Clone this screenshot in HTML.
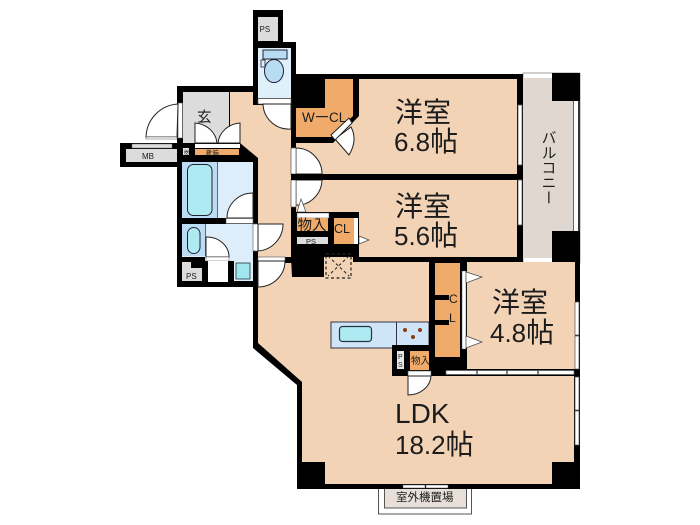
<!DOCTYPE html>
<html><head><meta charset="utf-8">
<style>
html,body{margin:0;padding:0;background:#fff}
svg{display:block}
text{font-family:"Liberation Sans","Noto Sans CJK JP",sans-serif;fill:#1c1c1c}
</style></head>
<body>
<svg width="700" height="525" viewBox="0 0 700 525" xmlns="http://www.w3.org/2000/svg">
<rect width="700" height="525" fill="#fff"/>
<!-- outdoor unit -->
<rect x="378.5" y="486" width="93" height="28" fill="#fff" stroke="#555" stroke-width="1"/>
<rect x="384.5" y="486" width="82" height="22" fill="#e8e0d8" stroke="#555" stroke-width="1"/>
<!-- balcony -->
<rect x="523" y="73" width="57" height="190" fill="#fff" stroke="#888" stroke-width="0.8"/>
<rect x="523" y="78" width="50" height="180" fill="#e0d8d0"/>
<rect x="573" y="78" width="1" height="180" fill="#666"/>
<rect x="578" y="78" width="2" height="180" fill="#333"/>
<!-- black silhouette -->
<polygon fill="#000" points="253,10 283,10 283,42 296,42 296,74 523,74 523,262 580,262 580,489 297,489 297,385 253,348 253,287 177,287 177,167 120,167 120,143 177,143 177,86 253,86"/>
<rect x="552" y="73" width="28" height="28" fill="#000"/>
<rect x="552" y="231" width="28" height="31" fill="#000"/>
<rect x="523" y="250" width="29" height="7" fill="#e0d8d0"/>
<!-- PS top -->
<rect x="258" y="17" width="20" height="24" fill="#dcdcdc"/>
<!-- toilet -->
<rect x="258" y="48" width="33" height="50" fill="#dff0fa"/>
<rect x="258" y="98.500" width="33" height="5.500" fill="#fff" stroke="#555" stroke-width=".6"/>
<rect x="263" y="50" width="24" height="9" fill="#b9dcf5" stroke="#223" stroke-width="1"/>
<rect x="261" y="60" width="4" height="7" fill="#dff0fa" stroke="#223" stroke-width=".8"/>
<ellipse cx="274" cy="71" rx="9.500" ry="11.500" fill="#b9dcf5" stroke="#223" stroke-width="1"/>
<!-- Genkan -->
<rect x="183" y="92" width="46" height="51" fill="#dcdcdc"/>
<!-- Hall + LDK -->
<polygon fill="#f2d3b6" points="230,92 253,92 253,105 291,105 291,257 292,277 323,277 323,250 353,250 353,262 429,262 429,345 392,345 392,376 574,376 574,484 325,484 325,462 302,462 302,382 258,343 258,158 240,143 230,143"/>
<rect x="302" y="462" width="23" height="27" fill="#000"/>
<rect x="552" y="462" width="28" height="27" fill="#000"/>
<rect x="285" y="257" width="8" height="6" fill="#000"/>
<rect x="291" y="143" width="6" height="120" fill="#000"/>
<!-- 6.8 room -->
<polygon fill="#f2d3b6" points="359,79 517,79 517,174 296,174 296,143 333,143 359,116"/>
<!-- 5.6 room -->
<polygon fill="#f2d3b6" points="296,180 517,180 517,257 359,257 359,212 296,212"/>
<!-- WCL -->
<polygon fill="#f0ab6b" points="325,79 353,79 353,116 331,137 296,137 296,108 325,108"/>
<!-- WCL door -->
<path d="M335,139 L349,155 Q358,140 351,127 Z" fill="#fff" stroke="#222" stroke-width="1"/>
<polygon points="331,135 349,118 352,123 335,140" fill="#fff" stroke="#222" stroke-width="1"/>
<!-- window strips right of upper rooms -->
<rect x="518" y="105" width="4" height="60" fill="#fff" stroke="#555" stroke-width=".7"/>
<rect x="518" y="180" width="4" height="45" fill="#fff" stroke="#555" stroke-width=".7"/>
<!-- doors left upper rooms -->
<path d="M296,148 A26,26 0 0 1 322,174 L296,174Z" fill="#fff" stroke="#222" stroke-width="1"/>
<path d="M296,180 L322,180 A26,26 0 0 1 301,205 L296,205Z" fill="#fff" stroke="#222" stroke-width="1"/>
<rect x="291" y="148" width="5" height="26" fill="#fff" stroke="#555" stroke-width=".7"/>
<rect x="291" y="180" width="5" height="27" fill="#fff" stroke="#555" stroke-width=".7"/>
<rect x="291" y="174" width="226" height="6" fill="#000"/>
<polygon points="297,212 301,199 306,212" fill="#fff" stroke="#444" stroke-width=".7"/>
<!-- toilet door swing -->
<path d="M263,104 L291,104 L291,129 A26,26 0 0 1 263,104Z" fill="#fff" stroke="#222" stroke-width="1"/>
<!-- CL block -->
<rect x="295" y="212" width="64" height="45" fill="#000"/>
<rect x="292" y="250" width="32" height="27" fill="#000"/>
<rect x="297" y="213" width="32" height="5" fill="#fff" stroke="#555" stroke-width=".5"/>
<rect x="297" y="218" width="31" height="13" fill="#f0ab6b"/>
<rect x="297" y="237" width="31" height="7" fill="#dcdcdc"/>
<rect x="334" y="218" width="20" height="26" fill="#f0ab6b"/>
<rect x="354" y="218" width="4" height="26" fill="#fff"/>
<polygon points="359,236 369,240 359,244" fill="#fff" stroke="#444" stroke-width=".7"/>
<!-- shaft -->
<rect x="326" y="254" width="25" height="24" fill="none" stroke="#222" stroke-width="1.200" stroke-dasharray="3 2.500"/>
<path d="M328,256 L349,276 M349,256 L328,276" stroke="#222" stroke-width="1" stroke-dasharray="3 2.500"/>
<!-- 4.8 room -->
<rect x="429" y="262" width="146" height="108" fill="#000"/>
<rect x="467" y="262" width="108" height="107" fill="#f2d3b6"/>
<rect x="435" y="263" width="25" height="94" fill="#f0ab6b"/>
<rect x="435" y="295" width="14" height="5" fill="#000"/>
<rect x="435" y="320" width="14" height="5" fill="#000"/>
<rect x="462" y="271" width="4" height="78" fill="#fff" stroke="#555" stroke-width=".5"/>
<polygon points="466,272 482,277 466,283" fill="#fff" stroke="#444" stroke-width=".7"/>
<polygon points="466,336 482,342 466,348" fill="#fff" stroke="#444" stroke-width=".7"/>
<rect x="467" y="369" width="107" height="7" fill="#000"/>
<rect x="446" y="370.500" width="128" height="4" fill="#fff" stroke="#555" stroke-width=".7"/>
<path d="M477,370 v5 M507,370 v5 M538,370 v5" stroke="#555" stroke-width="1.500"/>
<!-- right windows -->
<rect x="575" y="302" width="4" height="33" fill="#fff" stroke="#555" stroke-width=".7"/>
<rect x="575" y="336" width="4" height="33" fill="#fff" stroke="#555" stroke-width=".7"/>
<rect x="575" y="377" width="4" height="33" fill="#fff" stroke="#555" stroke-width=".7"/>
<rect x="575" y="411" width="4" height="34" fill="#fff" stroke="#555" stroke-width=".7"/>
<!-- kitchen -->
<rect x="331" y="322" width="98" height="26" fill="#cfe4f7" stroke="#334" stroke-width="1"/>
<rect x="396" y="322" width="1" height="26" fill="#334"/>
<rect x="339.500" y="326.500" width="32" height="15" rx="3" fill="#aeeaf2" stroke="#234" stroke-width="1.200"/>
<circle cx="405" cy="330" r="2" fill="#8a3b10"/><circle cx="420" cy="330" r="2" fill="#8a3b10"/><circle cx="413" cy="337" r="2" fill="#8a3b10"/>
<!-- kitchen back block -->
<rect x="392" y="345" width="43" height="31" fill="#000"/>
<rect x="429" y="262" width="6" height="108" fill="#000"/>
<rect x="435" y="357" width="32" height="6" fill="#000"/>
<rect x="397" y="351" width="7" height="18" fill="#e8e8e8"/>
<rect x="410" y="351" width="19" height="19" fill="#f0ab6b"/>
<rect x="408" y="371" width="23" height="5" fill="#fff" stroke="#555" stroke-width=".6"/>
<path d="M408,376 L431,376 A23,20 0 0 1 408,395Z" fill="#fff" stroke="#222" stroke-width="1"/>
<!-- bath -->
<rect x="182" y="162" width="71" height="56" fill="#ddeefa"/>
<rect x="182" y="162" width="35" height="56" fill="#bcdcf5"/>
<rect x="217" y="162" width="1" height="56" fill="#667"/>
<rect x="187.500" y="164.500" width="24.500" height="51" rx="6" fill="#aeeaf2" stroke="#223" stroke-width="1"/>
<path d="M253,193 A26,25 0 0 0 227,218 L253,218Z" fill="#fff" stroke="#222" stroke-width="1"/>
<rect x="226" y="218.500" width="27" height="5" fill="#fff" stroke="#555" stroke-width=".6"/>
<!-- wash -->
<rect x="182" y="224" width="71" height="33" fill="#ddeefa"/>
<rect x="205" y="256" width="48" height="5" fill="#ddeefa"/>
<rect x="182" y="224" width="23" height="32" fill="#bcdcf5"/>
<rect x="205" y="224" width="1" height="32" fill="#667"/>
<rect x="187.500" y="227.500" width="12.500" height="26" rx="6.250" fill="#aeeaf2" stroke="#223" stroke-width="1"/>
<path d="M206,237 A22,20 0 0 1 229,257 L206,257Z" fill="#fff" stroke="#222" stroke-width="1"/>
<rect x="206" y="257" width="23" height="4" fill="#fff" stroke="#555" stroke-width=".5"/>
<rect x="208" y="261" width="20" height="21" fill="#fff"/>
<rect x="234" y="261" width="19" height="20" fill="#dff0fa"/>
<rect x="236" y="263" width="14" height="16" fill="#9fe6ee" stroke="#234" stroke-width=".8"/>
<polygon fill="#dcdcdc" points="182,262 191,262 191,268 202,268 202,281 182,281"/>
<!-- entrance door -->
<rect x="178" y="103" width="4.500" height="35" fill="#fff" stroke="#555" stroke-width=".6"/>
<path d="M178,104 A34,34 0 0 0 146,137 L177,137Z" fill="#fff" stroke="#222" stroke-width="1"/>
<rect x="146" y="137" width="31" height="2" fill="#fff" stroke="#555" stroke-width=".5"/>
<!-- double door -->
<path d="M195,123 A24,22 0 0 1 217,143 L195,143Z" fill="#fff" stroke="#222" stroke-width="1"/>
<path d="M240,123 A24,22 0 0 0 218,143 L240,143Z" fill="#fff" stroke="#222" stroke-width="1"/>
<rect x="195" y="144" width="45" height="4" fill="#fff"/>
<rect x="195" y="149" width="44" height="6" fill="#f0ab6b"/>
<!-- MB -->
<rect x="126" y="149" width="51" height="13" fill="#dcdcdc"/>
<rect x="132" y="144" width="40" height="4" fill="#ddd" stroke="#666" stroke-width=".5"/>
<rect x="183" y="148" width="6" height="7" fill="#e8e8e8"/>
<!-- room doors in hall -->
<rect x="253" y="224" width="5" height="27" fill="#fff" stroke="#555" stroke-width=".6"/>
<path d="M258,224 L283,224 A27,27 0 0 1 258,251Z" fill="#fff" stroke="#222" stroke-width="1"/>
<rect x="258" y="257" width="27" height="4" fill="#fff" stroke="#555" stroke-width=".6"/>
<path d="M258,261 L285,261 A27,26 0 0 1 258,287Z" fill="#fff" stroke="#222" stroke-width="1"/>
<!-- bottom window -->
<rect x="403" y="485" width="22" height="3" fill="#fff" stroke="#555" stroke-width=".5"/>
<rect x="426" y="485" width="22" height="3" fill="#fff" stroke="#555" stroke-width=".5"/>
<!-- labels -->
<text x="423" y="122" font-size="28" text-anchor="middle">洋室</text>
<text x="394" y="151" font-size="26">6.8<tspan font-size="28">帖</tspan></text>
<text x="423" y="216" font-size="28" text-anchor="middle">洋室</text>
<text x="394" y="245" font-size="26">5.6<tspan font-size="28">帖</tspan></text>
<text x="520" y="312" font-size="28" text-anchor="middle">洋室</text>
<text x="490" y="342" font-size="26">4.8<tspan font-size="28">帖</tspan></text>
<text x="395" y="423" font-size="28">LDK</text>
<text x="395" y="454" font-size="26">18.2<tspan font-size="28">帖</tspan></text>
<text x="548" y="130" font-size="15" writing-mode="vertical-rl" text-anchor="start" style="writing-mode:vertical-rl">バルコニー</text>
<text x="302" y="122" font-size="13.500">W</text>
<rect x="316" y="116" width="12" height="1.200" fill="#222"/>
<text x="329" y="122" font-size="13.500">CL</text>
<text x="197" y="122" font-size="14.500">玄</text>
<text x="259.500" y="32" font-size="8" fill="#444">PS</text>
<text x="142" y="159" font-size="8" fill="#444">MB</text>
<text x="206" y="155" font-size="6.500">靴箱</text>
<text x="184" y="154" font-size="5">器</text>
<text x="297.500" y="230" font-size="14.500">物入</text>
<text x="334" y="233" font-size="12.500">CL</text>
<text x="306" y="244" font-size="7.500">PS</text>
<text x="186" y="279" font-size="8" fill="#444">PS</text>
<text x="449" y="303" font-size="12">C</text>
<text x="449" y="322" font-size="12">L</text>
<text x="398" y="359" font-size="7" fill="#333">P</text>
<text x="398" y="367" font-size="7" fill="#333">S</text>
<text x="411" y="364" font-size="9.500">物入</text>
<text x="396" y="501" font-size="11.500" fill="#333">室外機置場</text>
</svg>
</body></html>
